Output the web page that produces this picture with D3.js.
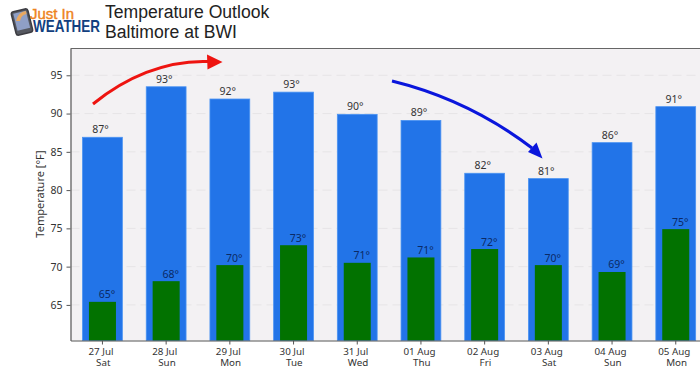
<!DOCTYPE html>
<html>
<head>
<meta charset="utf-8">
<script src="https://cdn.jsdelivr.net/npm/d3@7"></script>
<style>
    html, body { margin: 0; padding: 0; background: #fff; }
    svg { display: block; }
</style>
</head>
<body>
<svg id="chart" width="700" height="374"></svg>
<script>
const dates = ["27 Jul", "28 Jul", "29 Jul", "30 Jul", "31 Jul", "01 Aug", "02 Aug", "03 Aug", "04 Aug", "05 Aug"];
const days = ["Sat", "Sun", "Mon", "Tue", "Wed", "Thu", "Fri", "Sat", "Sun", "Mon"];
const highs = [86.9, 93.5, 91.9, 92.8, 89.9, 89.1, 82.2, 81.5, 86.2, 90.9];
const lows = [65.4, 68.1, 70.2, 72.8, 70.5, 71.2, 72.3, 70.2, 69.3, 74.9];
const highLabels = [87, 93, 92, 93, 90, 89, 82, 81, 86, 91];
const lowLabels = [65, 68, 70, 73, 71, 71, 72, 70, 69, 75];
const yTicks = [65, 70, 75, 80, 85, 90, 95];

const plotLeft = 70.5, plotTop = 48.5, plotBottom = 340.5, plotRight = 700;
const labelFont = "'Noto Sans', 'Open Sans', sans-serif";
const titleFont = "'Liberation Sans', Arial, sans-serif";
const textColor = "#333";

let svg = d3.select("#chart");

let xHigh = d3.scaleBand()
    .domain(dates)
    .range([70.6, 707.6])
    .paddingInner(0.375)
    .paddingOuter(0.1875);

let xLow = d3.scaleBand()
    .domain(dates)
    .range([70.6, 707.6])
    .paddingInner(0.576)
    .paddingOuter(0.288);

let yScale = d3.scaleLinear()
    .domain([60.35, 98.5])
    .range([plotBottom, plotTop]);

// plot background
svg.append("rect")
    .attr("x", plotLeft)
    .attr("y", plotTop)
    .attr("width", plotRight - plotLeft)
    .attr("height", plotBottom - plotTop)
    .attr("fill", "#f3f1f3");

// dashed grid
svg.selectAll(".grid")
    .data(yTicks)
    .enter()
    .append("line")
    .attr("x1", plotLeft)
    .attr("x2", plotRight)
    .attr("y1", d => yScale(d))
    .attr("y2", d => yScale(d))
    .attr("stroke", "#e6e4e6")
    .attr("stroke-width", 1)
    .style("stroke-dasharray", "9,5");

// high temperature bars
svg.selectAll(".highBar")
    .data(highs)
    .enter()
    .append("rect")
    .attr("x", (d, i) => xHigh(dates[i]))
    .attr("y", d => yScale(d))
    .attr("width", xHigh.bandwidth())
    .attr("height", d => plotBottom - yScale(d))
    .attr("fill", "#2274e8")
    .attr("stroke", "#4a93f2")
    .attr("stroke-width", 0.8);

// low temperature bars
svg.selectAll(".lowBar")
    .data(lows)
    .enter()
    .append("rect")
    .attr("x", (d, i) => xLow(dates[i]))
    .attr("y", d => yScale(d))
    .attr("width", xLow.bandwidth())
    .attr("height", d => plotBottom - yScale(d))
    .attr("fill", "#027200");

// value labels
svg.selectAll(".highLabel")
    .data(highs)
    .enter()
    .append("text")
    .attr("x", (d, i) => xHigh(dates[i]) + xHigh.bandwidth() / 2 - 2)
    .attr("y", d => yScale(d) - 4)
    .text((d, i) => highLabels[i] + "°")
    .style("font-family", labelFont)
    .style("font-size", "10.5px")
    .style("text-anchor", "middle")
    .style("fill", textColor);

svg.selectAll(".lowLabel")
    .data(lows)
    .enter()
    .append("text")
    .attr("x", (d, i) => xLow(dates[i]) + xLow.bandwidth() / 2 + 4.5)
    .attr("y", d => yScale(d) - 3.5)
    .text((d, i) => lowLabels[i] + "°")
    .style("font-family", labelFont)
    .style("font-size", "10.5px")
    .style("text-anchor", "middle")
    .style("fill", "#0b2a66");

// axes
let yAxis = svg.append("g")
    .attr("transform", "translate(" + plotLeft + ",0)")
    .call(d3.axisLeft(yScale).tickValues(yTicks).tickSize(4).tickPadding(4).tickSizeOuter(0));
yAxis.selectAll("text")
    .style("font-family", labelFont)
    .style("font-size", "10.5px")
    .style("fill", textColor);

let xAxis = svg.append("g")
    .attr("transform", "translate(0," + plotBottom + ")")
    .call(d3.axisBottom(xHigh).tickSize(4).tickPadding(4).tickSizeOuter(0));
xAxis.selectAll("text").each(function(d, i) {
    let label = d3.select(this).text("").attr("dy", null);
    label.append("tspan").attr("x", -1.5).attr("dy", 6.5).text(d);
    label.append("tspan").attr("x", 0.8).attr("dy", 10.5).text(days[i]);
})
    .style("font-family", labelFont)
    .style("font-size", "9.8px")
    .style("fill", textColor);

svg.selectAll(".domain").attr("stroke", "#555").attr("stroke-width", 1.2);
svg.selectAll(".tick line").attr("stroke", "#555");

// top border of the plot
svg.append("line")
    .attr("x1", plotLeft)
    .attr("x2", plotRight)
    .attr("y1", plotTop)
    .attr("y2", plotTop)
    .attr("stroke", "#666")
    .attr("stroke-width", 1.2);

svg.append("text")
    .attr("transform", "translate(44,194) rotate(-90)")
    .text("Temperature [°F]")
    .style("font-family", labelFont)
    .style("font-size", "11px")
    .style("text-anchor", "middle")
    .style("fill", textColor);

// hand drawn trend arrows
svg.append("path")
    .attr("d", "M93,104 C125,78 165,60 208,61.5")
    .attr("fill", "none")
    .attr("stroke", "#ee1410")
    .attr("stroke-width", 3);
svg.append("path")
    .attr("d", "M207,54.5 L222.5,62 L207.5,69.5 Z")
    .attr("fill", "#ee1410");

svg.append("path")
    .attr("d", "M392,81 C445,94 490,116 532,148")
    .attr("fill", "none")
    .attr("stroke", "#0a16dc")
    .attr("stroke-width", 3);
svg.append("path")
    .attr("d", "M528,152 L536.5,142.5 L542.5,158.5 Z")
    .attr("fill", "#0a16dc");

// title
let title = svg.append("text")
    .style("font-family", titleFont)
    .style("font-size", "17.6px")
    .style("fill", "#222");
title.append("tspan").attr("x", 105).attr("y", 17.5).text("Temperature Outlook");
title.append("tspan").attr("x", 105).attr("y", 37.5).text("Baltimore at BWI");

// logo
let logo = svg.append("g");
logo.append("rect")
    .attr("x", 13.5)
    .attr("y", 10)
    .attr("width", 17)
    .attr("height", 24)
    .attr("rx", 2.5)
    .attr("transform", "rotate(-14 22 22)")
    .attr("fill", "#555860")
    .attr("stroke", "#3c3c42")
    .attr("stroke-width", 1.5);
logo.append("rect")
    .attr("x", 15.5)
    .attr("y", 12)
    .attr("width", 13)
    .attr("height", 17.5)
    .attr("transform", "rotate(-14 22 22)")
    .attr("fill", "#8f9fc6");
logo.append("path")
    .attr("d", "M16,21 Q18,12 26,11 L26.5,14 Q21,15 20,21 Z")
    .attr("fill", "#e9a860");
logo.append("text")
    .attr("x", 30)
    .attr("y", 18.5)
    .text("Just In")
    .attr("textLength", 44)
    .attr("lengthAdjust", "spacingAndGlyphs")
    .style("font-family", titleFont)
    .style("font-size", "14.5px")
    .style("stroke", "#ee8320")
    .style("stroke-width", 0.4)
    .style("fill", "#ee8320");
logo.append("text")
    .attr("x", 33)
    .attr("y", 32)
    .text("WEATHER")
    .attr("textLength", 67)
    .attr("lengthAdjust", "spacingAndGlyphs")
    .style("font-family", titleFont)
    .style("font-size", "16.5px")
    .style("font-weight", "bold")
    .style("fill", "#123f80");
</script>
</body>
</html>
